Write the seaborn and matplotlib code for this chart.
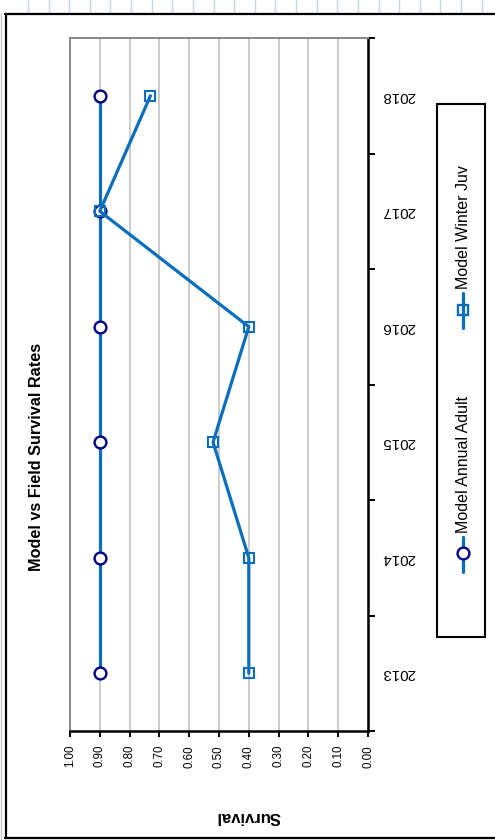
import numpy as np
import pandas as pd
import matplotlib
matplotlib.use("Agg")
import matplotlib.pyplot as plt
from matplotlib.lines import Line2D
from matplotlib.patches import Rectangle
import seaborn as sns

# Survival rates by year
years = ["2013", "2014", "2015", "2016", "2017", "2018"]
annual_adult = [0.90, 0.90, 0.90, 0.90, 0.90, 0.90]
winter_juv = [0.40, 0.40, 0.52, 0.40, 0.90, 0.73]
survival_ticks = [0.0, 0.1, 0.2, 0.3, 0.4, 0.5, 0.6, 0.7, 0.8, 0.9, 1.0]
series_names = ["Model Annual Adult", "Model Winter Juv"]
title_text = "Model vs Field Survival Rates"
value_label = "Survival"

sns.set_theme(style="white")
plt.rcParams["font.family"] = ["Liberation Sans", "DejaVu Sans"]
plt.rcParams["text.color"] = "black"
plt.rcParams["xtick.color"] = "black"
plt.rcParams["ytick.color"] = "black"
plt.rcParams["axes.labelcolor"] = "black"

W, H, DPI = 495, 840, 100
fig = plt.figure(figsize=(W / DPI, H / DPI), dpi=DPI)
fig.patch.set_facecolor("white")


def fx(px):
    return px / W


def fy(py):
    return 1 - py / H


LINE_BLUE = "#0a6ebd"
NAVY = "#000080"

# Sheet gridlines behind the chart object
for k in range(23):
    x = 28 + 20.62 * k
    fig.add_artist(Line2D([fx(x), fx(x)], [fy(0), fy(14)], color="#c9d4e8", lw=1.0))
fig.add_artist(Line2D([fx(1), fx(1)], [fy(14), fy(840)], color="#c8c8c8", lw=1.0))

# Chart object border
fig.add_artist(Line2D([fx(5), fx(495)], [fy(14), fy(14)], color="black", lw=1.6))
fig.add_artist(Line2D([fx(5.5), fx(5.5)], [fy(14), fy(838)], color="black", lw=1.6))
fig.add_artist(Line2D([fx(5), fx(495)], [fy(838), fy(838)], color="black", lw=1.6))

# Plot area (value axis runs horizontally, years vertically)
ax = fig.add_axes([fx(70), fy(731), fx(368) - fx(70), fy(38) - fy(731)])
ax.set_facecolor("white")

pos = np.arange(len(years))
df = pd.DataFrame({
    "year": years * 2,
    "pos": np.concatenate([pos, pos]),
    "survival": annual_adult + winter_juv,
    "series": [series_names[0]] * len(years) + [series_names[1]] * len(years),
})

sns.lineplot(
    data=df[df["series"] == series_names[0]], x="survival", y="pos",
    sort=False, orient="y", estimator=None, ax=ax, color=LINE_BLUE, lw=2.3,
    marker="o", markersize=8.5, markerfacecolor="white",
    markeredgecolor=NAVY, markeredgewidth=1.7, legend=False, zorder=3,
)
sns.lineplot(
    data=df[df["series"] == series_names[1]], x="survival", y="pos",
    sort=False, orient="y", estimator=None, ax=ax, color=LINE_BLUE, lw=2.3,
    marker="s", markersize=6.5, markerfacecolor="none",
    markeredgecolor=LINE_BLUE, markeredgewidth=1.5, legend=False, zorder=4,
)

ax.set_xlim(1.0, 0.0)
ax.set_ylim(-0.5, len(years) - 0.5)
ax.set_xlabel("")
ax.set_ylabel("")

# Value axis (bottom)
ax.set_xticks(survival_ticks)
ax.set_xticklabels([f"{v:.2f}" for v in survival_ticks], rotation=90,
                   fontsize=8.3, color="black")
ax.tick_params(axis="x", direction="out", length=4, width=1.4,
               color="black", pad=6, bottom=True)
ax.grid(axis="x", color="#c4c4c4", lw=1.2)
ax.grid(axis="y", visible=False)
ax.set_axisbelow(True)

# Category axis (right side, where value = 0)
ax.yaxis.tick_right()
ax.set_yticks(pos)
ax.set_yticklabels(years, rotation=180, fontsize=10.8, color="black",
                   ha="left", va="center")
ax.set_yticks(np.arange(-0.5, len(years), 1.0), minor=True)
ax.tick_params(axis="y", which="major", length=0, pad=10, right=True, left=False)
ax.tick_params(axis="y", which="minor", direction="out", length=5, width=1.4,
               color="black", right=True, left=False)

for side in ("left", "top"):
    ax.spines[side].set_color("#888888")
    ax.spines[side].set_linewidth(1.4)
for side in ("right", "bottom"):
    ax.spines[side].set_color("black")
    ax.spines[side].set_linewidth(1.8)
    ax.spines[side].set_visible(True)

# Titles
fig.text(fx(37), fy(457), title_text, rotation=90, fontsize=11.7,
         fontweight="bold", ha="center", va="center", color="black")
fig.text(fx(248), fy(817), value_label, rotation=180, fontsize=12,
         fontweight="bold", ha="center", va="center", color="black")

# Legend box with vertical entries
fig.add_artist(Rectangle((fx(437), fy(637)), fx(485) - fx(437), fy(104) - fy(637),
                         facecolor="white", edgecolor="black", lw=1.5,
                         transform=fig.transFigure))
legend_specs = [
    (series_names[0], 572, 537, 553, "o", "white", NAVY, 8.5),
    (series_names[1], 328, 293, 310, "s", "none", LINE_BLUE, 6.5),
]
for name, y0, y1, ym, mk, mfc, mec, ms in legend_specs:
    fig.add_artist(Line2D([fx(463), fx(463)], [fy(y0), fy(y1)], color=LINE_BLUE, lw=2.3))
    fig.add_artist(Line2D([fx(463)], [fy(ym)], marker=mk, markersize=ms,
                          markerfacecolor=mfc, markeredgecolor=mec,
                          markeredgewidth=1.7, lw=0))
    fig.text(fx(463), fy(y1 - 4), name, rotation=90, fontsize=11.5,
             ha="center", va="bottom", color="black")

fig.savefig("out.png", dpi=DPI, facecolor="white")
